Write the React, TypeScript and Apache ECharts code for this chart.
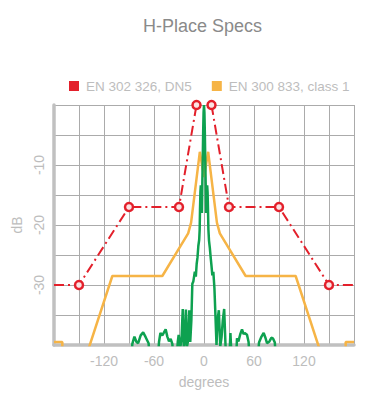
import React, { useEffect, useRef } from "react";
import * as echarts from "echarts";

const titleText = "H-Place Specs";
const redName = "EN 302 326, DN5";
const orangeName = "EN 300 833, class 1";

const xTickLabels = [-120, -60, 0, 60, 120];
const yTickLabels = [-10, -20, -30];

// EN 302 326 DN5 mask (left and right branches)
const redLeft = [[-180, -30], [-150, -30], [-90, -17], [-30, -17], [-9, 0]];
const redRight = [[9, 0], [30, -17], [90, -17], [150, -30], [180, -30]];

// EN 300 833 class 1 mask
const orangeMask = [
  [-180, -39.5], [-170, -39.5], [-170, -45.5], [-150, -45.5], [-110, -28.5], [-50, -28.5],
  [-19, -21.4], [-15.5, -19.6], [-5, -7.8], [0, -12], [5, -7.8], [15.5, -19.6], [19, -21.4],
  [50, -28.5], [110, -28.5], [150, -45.5], [170, -45.5], [170, -39.5], [180, -39.5],
];

// measured antenna pattern
const patternLeft = [
  [-88, -44], [-86, -39.8], [-83.5, -38.6], [-81, -39.5], [-79, -39.7], [-76, -38.4], [-73, -37.9],
  [-70, -38.7], [-66.5, -39.7], [-64, -44], [-56, -44], [-54, -39.5], [-52.3, -38], [-50, -38.4],
  [-48, -37.9], [-46, -37.4], [-44, -38.6], [-42, -39.4], [-40, -39], [-38, -39.8], [-36, -44],
  [-33.5, -44], [-31.5, -39.5], [-30.4, -38.3], [-28.5, -40.5], [-27, -39], [-25.5, -34],
  [-24.2, -40.5], [-22.8, -39], [-21.7, -34.1], [-20.5, -40.3], [-19, -39.2], [-17.7, -34.2],
  [-16.5, -39.5], [-15.2, -36], [-14, -29.8], [-12.8, -29.4], [-11, -27.8], [-9.8, -28.6],
  [-8.8, -26.5], [-7.8, -25.4], [-6.8, -23.5], [-5.8, -22.5], [-5.2, -20.8], [-4.8, -17.5],
  [-4.3, -14.5], [-3.8, -13.4], [-3, -13.8], [-2.5, -18], [-2, -13], [-1.5, -9], [-1, -4.5],
  [-0.5, -1.2], [0, 0],
];
const patternRight = [
  [0.5, -1.2], [1, -4.5], [1.5, -9], [2, -13], [2.5, -18], [3, -13.8], [3.8, -13.4], [4.3, -14.5],
  [4.8, -17.5], [5.3, -20.8], [6, -22.6], [7, -23.8], [8, -25.4], [9, -26.8], [10, -28.4],
  [11.2, -27.8], [12.5, -30.5], [13.5, -34.2], [15, -40], [16.2, -36], [17.8, -34.2], [19.5, -40.2],
  [21, -38.8], [22.5, -36], [24.2, -34], [25.8, -40], [27.5, -44], [30, -44], [31.7, -38],
  [33.8, -44], [38, -44], [39.6, -38.9], [41.3, -39.4], [43.5, -38.2], [45.6, -37.4], [47.5, -38.2],
  [48.8, -38], [51.6, -38.3], [53.5, -39.5], [55.5, -44], [64, -44], [66, -39.6], [69, -38.6],
  [71.6, -38], [73.5, -38.7], [75.6, -39.7], [78.5, -39.4], [80.8, -38.8], [82.8, -38.9],
  [85, -39.6], [87, -44],
];

const RED = "#e3202b";
const ORANGE = "#f6b446";
const GREEN = "#0ea150";
const FONT = "'Liberation Sans', Arial, Helvetica, sans-serif";

function markRed(points: number[][]) {
  return points.map((p) =>
    Math.abs(p[0]) === 180 ? { value: p, symbol: "none" } : { value: p }
  );
}

export default function App() {
  const ref = useRef<HTMLDivElement>(null);
  useEffect(() => {
    if (!ref.current) return;
    const chart = echarts.init(ref.current, undefined, { renderer: "svg" });
    const redLine = {
      type: "line",
      name: redName,
      color: RED,
      symbol: "circle",
      symbolSize: 8,
      itemStyle: { color: "#fbe3e3", borderColor: RED, borderWidth: 2.5 },
      lineStyle: { color: RED, width: 2, type: [10, 4, 2, 4] },
      z: 4,
    };
    chart.setOption({
      animation: false,
      backgroundColor: "#fff",
      textStyle: { fontFamily: FONT },
      title: {
        text: titleText,
        left: 138,
        top: 12,
        textStyle: { color: "#8a8a8a", fontSize: 18, fontWeight: "normal", fontFamily: FONT },
      },
      legend: {
        data: [
          { name: redName, itemStyle: { color: RED, borderWidth: 0 } },
          { name: orangeName, itemStyle: { color: ORANGE, borderWidth: 0 } },
        ],
        left: 64,
        top: 74,
        icon: "rect",
        itemWidth: 10,
        itemHeight: 10,
        itemGap: 20,
        textStyle: { color: "#bdbdbd", fontSize: 13.5, fontFamily: FONT, padding: [0, 0, 0, 2] },
      },
      grid: { left: 54, right: 30, top: 105, bottom: 69 },
      xAxis: {
        type: "value",
        min: -180,
        max: 180,
        interval: 30,
        name: "degrees",
        nameLocation: "middle",
        nameGap: 30,
        nameTextStyle: { color: "#bdbdbd", fontSize: 14, fontFamily: FONT },
        axisLine: { show: true, onZero: false, lineStyle: { color: "#c0c0c0", width: 3.5 } },
        axisTick: { show: false },
        axisLabel: {
          color: "#bdbdbd",
          fontSize: 14,
          margin: 9,
          formatter: (v: number) => (xTickLabels.includes(v) ? String(v) : ""),
        },
        splitLine: { show: true, lineStyle: { color: "#ababab", width: 1 } },
      },
      yAxis: {
        type: "value",
        min: -40,
        max: 0,
        interval: 5,
        name: "dB",
        nameLocation: "middle",
        nameGap: 29,
        nameRotate: 90,
        nameTextStyle: { color: "#bdbdbd", fontSize: 14, fontFamily: FONT },
        axisLine: { show: true, onZero: false, lineStyle: { color: "#c0c0c0", width: 3.5 } },
        axisTick: { show: false },
        axisLabel: {
          color: "#bdbdbd",
          fontSize: 14,
          rotate: 90,
          margin: 8,
          formatter: (v: number) => (yTickLabels.includes(v) ? String(v) : ""),
        },
        splitLine: { show: true, lineStyle: { color: "#ababab", width: 1 } },
      },
      series: [
        {
          type: "line",
          name: orangeName,
          color: ORANGE,
          data: orangeMask,
          showSymbol: false,
          symbol: "none",
          lineStyle: { color: ORANGE, width: 2.5 },
          z: 2,
        },
        {
          type: "line",
          name: "pattern",
          data: [...patternLeft, ...patternRight],
          showSymbol: false,
          symbol: "none",
          lineStyle: { color: GREEN, width: 2.5 },
          z: 3,
        },
        { ...redLine, data: markRed(redLeft) },
        { ...redLine, data: markRed(redRight) },
      ],
    });
    return () => chart.dispose();
  }, []);
  return (
    <div
      ref={ref}
      style={{ position: "fixed", left: 0, top: 0, width: 384, height: 414 }}
    />
  );
}
